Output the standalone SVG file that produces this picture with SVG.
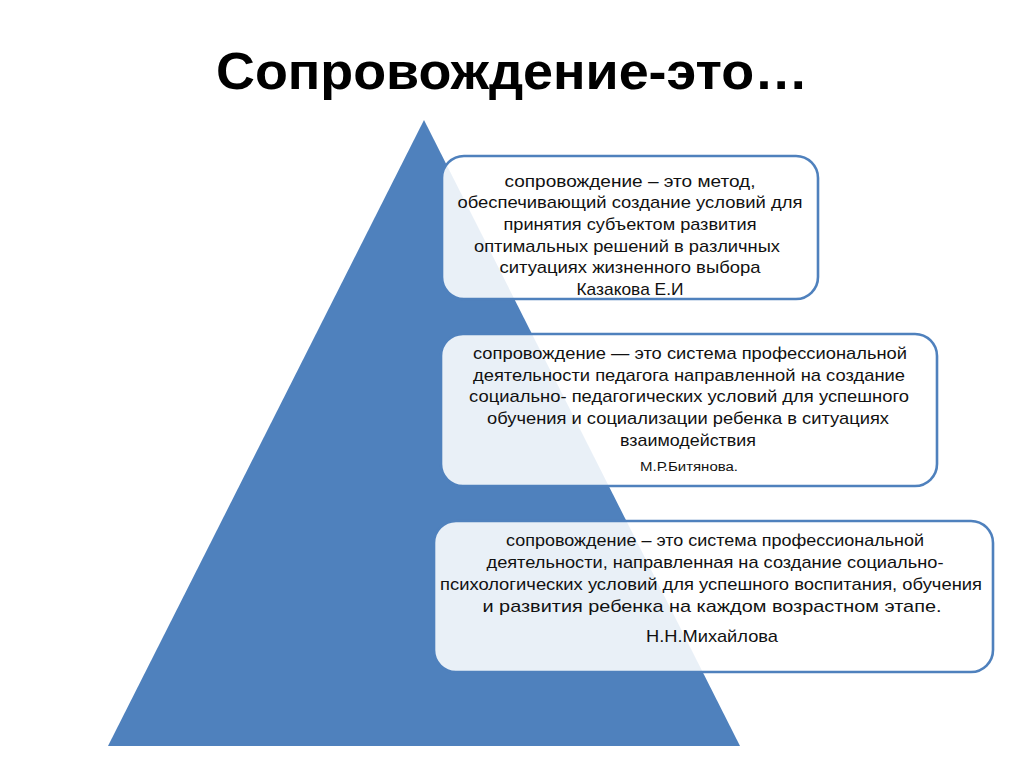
<svg xmlns="http://www.w3.org/2000/svg" width="1024" height="767" viewBox="0 0 1024 767">
<style>
.box{fill:#ffffff;fill-opacity:0.88;stroke:#4f81bd;stroke-width:2.6}
.t{font-family:"Liberation Sans",Arial,sans-serif;font-size:17px;fill:#111;text-anchor:middle}
.s{font-size:12.5px}
.title{font-family:"Liberation Sans",Arial,sans-serif;font-weight:bold;font-size:52px;fill:#000;text-anchor:middle}
</style>
<rect width="1024" height="767" fill="#ffffff"/>
<g id="title"><text class="title" x="512" y="89" textLength="592" lengthAdjust="spacingAndGlyphs">Сопровождение-это…</text></g>
<g id="pyramid"><polygon points="424,120 108,746 740,746" fill="#4f81bd"/></g>
<g id="node1">
<rect class="box" x="442" y="156" width="376" height="143" rx="22"/>
<text class="t" x="630" y="187" textLength="251" lengthAdjust="spacingAndGlyphs">сопровождение – это метод,</text>
<text class="t" x="630" y="208" textLength="345" lengthAdjust="spacingAndGlyphs">обеспечивающий создание условий для</text>
<text class="t" x="630" y="230" textLength="253" lengthAdjust="spacingAndGlyphs">принятия субъектом развития</text>
<text class="t" x="627" y="252" textLength="306" lengthAdjust="spacingAndGlyphs">оптимальных решений в различных</text>
<text class="t" x="630" y="273" textLength="261" lengthAdjust="spacingAndGlyphs">ситуациях жизненного выбора</text>
<text class="t" x="630" y="295" textLength="107" lengthAdjust="spacingAndGlyphs">Казакова Е.И</text>
</g>
<g id="node2">
<rect class="box" x="441" y="334" width="496" height="152" rx="22"/>
<text class="t" x="690" y="359" textLength="434" lengthAdjust="spacingAndGlyphs">сопровождение — это система профессиональной</text>
<text class="t" x="689" y="381" textLength="432" lengthAdjust="spacingAndGlyphs">деятельности педагога направленной на создание</text>
<text class="t" x="689" y="402" textLength="440" lengthAdjust="spacingAndGlyphs">социально- педагогических условий для успешного</text>
<text class="t" x="688" y="424" textLength="402" lengthAdjust="spacingAndGlyphs">обучения и социализации  ребенка в ситуациях</text>
<text class="t" x="688" y="446" textLength="136" lengthAdjust="spacingAndGlyphs">взаимодействия</text>
<text class="t s" x="689" y="471" textLength="98" lengthAdjust="spacingAndGlyphs">М.Р.Битянова.</text>
</g>
<g id="node3">
<rect class="box" x="434" y="521" width="559" height="151" rx="22"/>
<text class="t" x="715" y="546" textLength="418" lengthAdjust="spacingAndGlyphs">сопровождение – это система профессиональной</text>
<text class="t" x="715" y="568" textLength="457" lengthAdjust="spacingAndGlyphs">деятельности, направленная на создание социально-</text>
<text class="t" x="711" y="590" textLength="542" lengthAdjust="spacingAndGlyphs">психологических условий для успешного воспитания, обучения</text>
<text class="t" x="712" y="612" textLength="459" lengthAdjust="spacingAndGlyphs">и развития ребенка на каждом возрастном этапе.</text>
<text class="t" x="712" y="642" textLength="132" lengthAdjust="spacingAndGlyphs">Н.Н.Михайлова</text>
</g>
<g id="connectors"></g>
</svg>
